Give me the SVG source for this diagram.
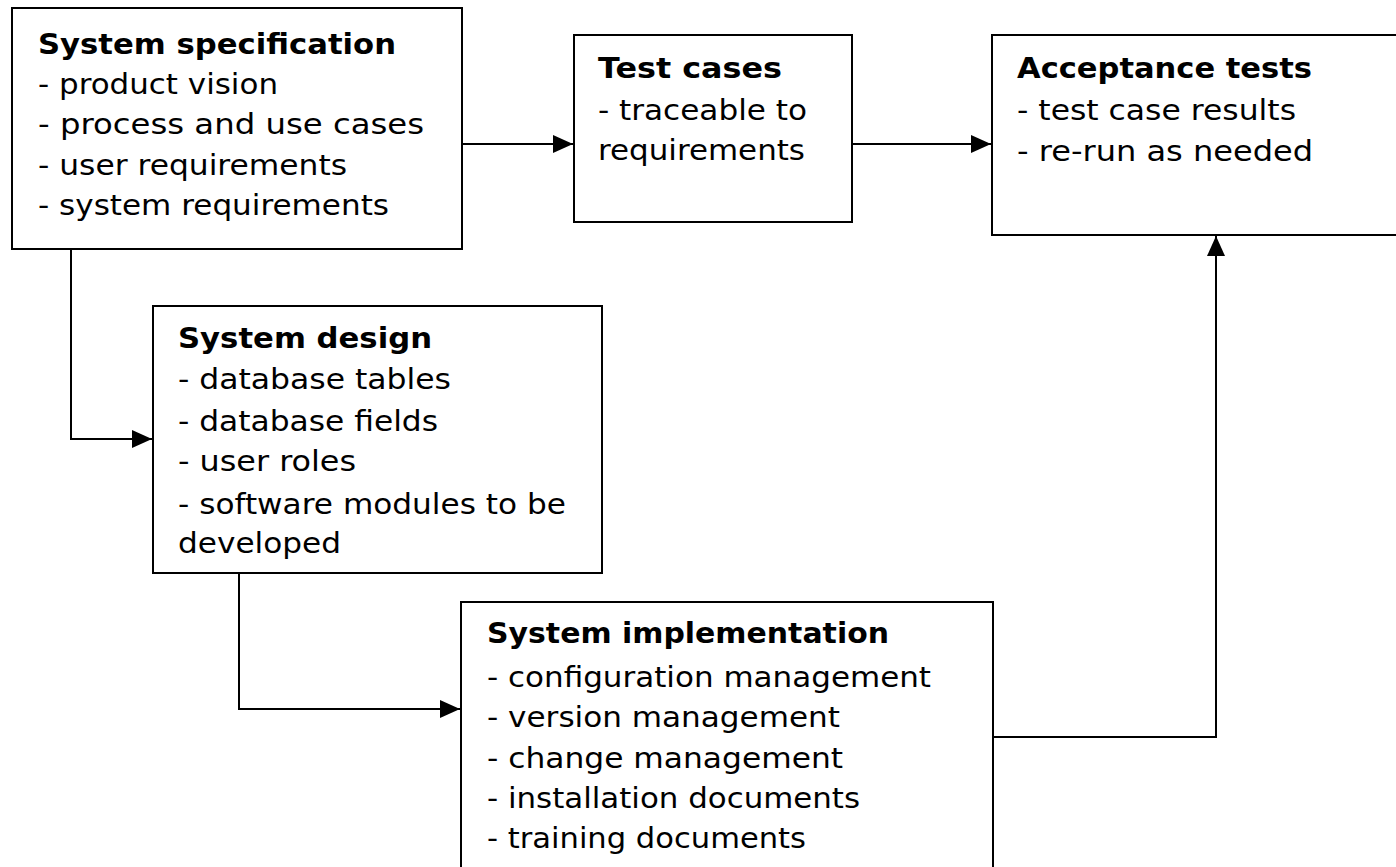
<svg xmlns="http://www.w3.org/2000/svg" width="1396" height="867" viewBox="0 0 1396 867">
<style>
.box{fill:#fff;stroke:#000;stroke-width:2}
.t{font-family:"DejaVu Sans","Liberation Sans",sans-serif;font-size:29px;fill:#000}
.b{font-weight:bold}
.c{fill:none;stroke:#000;stroke-width:2;marker-end:url(#ah)}
</style>
<defs>
<marker id="ah" markerUnits="userSpaceOnUse" markerWidth="22" markerHeight="20" refX="20" refY="9" orient="auto">
<path d="M0,0 L20,9 L0,18 z" fill="#000"/>
</marker>
</defs>
<rect width="1396" height="867" fill="#fff"/>
<g id="connectors">
<path class="c" d="M71,249 V439 H152"/>
<path class="c" d="M462,144 H573"/>
<path class="c" d="M852,144 H991"/>
<path class="c" d="M239,573 V709 H460"/>
<path class="c" d="M993,737 H1216 V236"/>
</g>
<g id="system-specification">
<rect class="box" x="12" y="8" width="450" height="241"/>
<text class="t b" x="38" y="54" textLength="358" lengthAdjust="spacingAndGlyphs">System specification</text>
<text class="t" x="38" y="94" textLength="240" lengthAdjust="spacingAndGlyphs">- product vision</text>
<text class="t" x="38" y="134" textLength="386" lengthAdjust="spacingAndGlyphs">- process and use cases</text>
<text class="t" x="38" y="175" textLength="309" lengthAdjust="spacingAndGlyphs">- user requirements</text>
<text class="t" x="38" y="215" textLength="351" lengthAdjust="spacingAndGlyphs">- system requirements</text>
</g>
<g id="test-cases">
<rect class="box" x="574" y="35" width="278" height="187"/>
<text class="t b" x="598" y="78" textLength="184" lengthAdjust="spacingAndGlyphs">Test cases</text>
<text class="t" x="598" y="120" textLength="209" lengthAdjust="spacingAndGlyphs">- traceable to</text>
<text class="t" x="598" y="160" textLength="207" lengthAdjust="spacingAndGlyphs">requirements</text>
</g>
<g id="acceptance-tests">
<rect class="box" x="992" y="35" width="420" height="200"/>
<text class="t b" x="1017" y="78" textLength="295" lengthAdjust="spacingAndGlyphs">Acceptance tests</text>
<text class="t" x="1017" y="120" textLength="279" lengthAdjust="spacingAndGlyphs">- test case results</text>
<text class="t" x="1017" y="161" textLength="296" lengthAdjust="spacingAndGlyphs">- re-run as needed</text>
</g>
<g id="system-design">
<rect class="box" x="153" y="306" width="449" height="267"/>
<text class="t b" x="178" y="348" textLength="254" lengthAdjust="spacingAndGlyphs">System design</text>
<text class="t" x="178" y="389" textLength="273" lengthAdjust="spacingAndGlyphs">- database tables</text>
<text class="t" x="178" y="431" textLength="260" lengthAdjust="spacingAndGlyphs">- database fields</text>
<text class="t" x="178" y="471" textLength="178" lengthAdjust="spacingAndGlyphs">- user roles</text>
<text class="t" x="178" y="514" textLength="388" lengthAdjust="spacingAndGlyphs">- software modules to be</text>
<text class="t" x="178" y="553" textLength="163" lengthAdjust="spacingAndGlyphs">developed</text>
</g>
<g id="system-implementation">
<rect class="box" x="461" y="602" width="532" height="290"/>
<text class="t b" x="487" y="643" textLength="402" lengthAdjust="spacingAndGlyphs">System implementation</text>
<text class="t" x="487" y="687" textLength="444" lengthAdjust="spacingAndGlyphs">- configuration management</text>
<text class="t" x="487" y="727" textLength="353" lengthAdjust="spacingAndGlyphs">- version management</text>
<text class="t" x="487" y="768" textLength="356" lengthAdjust="spacingAndGlyphs">- change management</text>
<text class="t" x="487" y="808" textLength="373" lengthAdjust="spacingAndGlyphs">- installation documents</text>
<text class="t" x="487" y="848" textLength="319" lengthAdjust="spacingAndGlyphs">- training documents</text>
</g>
</svg>
